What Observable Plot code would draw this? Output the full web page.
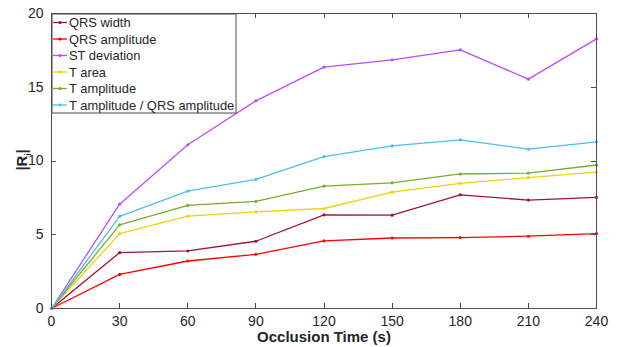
<!DOCTYPE html>
<html>
<head>
<meta charset="utf-8">
<script src="https://cdn.jsdelivr.net/npm/d3@7"></script>
<script src="https://cdn.jsdelivr.net/npm/@observablehq/plot@0.6"></script>
<style>
  body { margin: 0; background: #fff; }
  #chart { width: 625px; height: 347px; }
  svg { font-family: "Liberation Sans", Arial, sans-serif; }
</style>
</head>
<body>
<div id="chart"></div>
<script>
const times = [0, 30, 60, 90, 120, 150, 180, 210, 240];
const seriesNames = ["QRS width", "QRS amplitude", "ST deviation", "T area", "T amplitude", "T amplitude / QRS amplitude"];
const seriesColors = ["#A2142F", "#FF0000", "#B94CFF", "#EDD20F", "#77AC30", "#4DBEEE"];
const qrsWidth     = [0, 3.79, 3.90, 4.56, 6.35, 6.33, 7.71, 7.35, 7.53];
const qrsAmplitude = [0, 2.31, 3.22, 3.67, 4.58, 4.78, 4.81, 4.90, 5.08];
const stDeviation  = [0, 7.07, 11.10, 14.08, 16.37, 16.86, 17.54, 15.55, 18.28];
const tArea        = [0, 5.08, 6.26, 6.55, 6.78, 7.89, 8.48, 8.87, 9.25];
const tAmplitude   = [0, 5.67, 6.99, 7.26, 8.30, 8.52, 9.12, 9.18, 9.73];
const tAmpRatio    = [0, 6.24, 7.96, 8.75, 10.29, 11.02, 11.43, 10.80, 11.29];
const xTicks = [0, 30, 60, 90, 120, 150, 180, 210, 240];
const yTicks = [0, 5, 10, 15, 20];

const allSeries = [qrsWidth, qrsAmplitude, stDeviation, tArea, tAmplitude, tAmpRatio];
const data = [];
allSeries.forEach((vals, si) => {
  vals.forEach((v, i) => data.push({series: seriesNames[si], t: times[i], v}));
});

const W = 625, H = 347, mL = 51, mR = 29, mT = 13, mB = 39;
const tick = 5;
const axisColor = "#4d4d4d";
const textColor = "#262626";

const chart = Plot.plot({
  width: W,
  height: H,
  marginLeft: mL,
  marginRight: mR,
  marginTop: mT,
  marginBottom: mB,
  style: {fontFamily: "'Liberation Sans', Arial, sans-serif", fontSize: "14px", color: textColor, background: "#fff"},
  x: {domain: [0, 240], label: null},
  y: {domain: [0, 20], label: null},
  color: {domain: seriesNames, range: seriesColors},
  marks: [
    Plot.line(data, {x: "t", y: "v", z: "series", stroke: "series", strokeWidth: 1.3}),
    Plot.dot(data, {x: "t", y: "v", fill: "series", r: 1.6, stroke: "none"}),
    Plot.frame({stroke: axisColor, strokeWidth: 1}),
    Plot.axisX(xTicks, {anchor: "bottom", tickSize: 0, tickPadding: 8, fill: textColor, fontSize: 14}),
    Plot.axisY(yTicks, {anchor: "left", tickSize: 0, tickPadding: 8, fill: textColor, fontSize: 14})
  ]
});
document.getElementById("chart").appendChild(chart);

const svg = d3.select(chart);
const sx = chart.scale("x"), sy = chart.scale("y");
const x0 = sx.apply(0), x1 = sx.apply(240), y0 = sy.apply(0), y1 = sy.apply(20);
const tg = svg.append("g").attr("stroke", axisColor).attr("stroke-width", 1);
xTicks.forEach(t => {
  const px = Math.round(sx.apply(t)) + 0.5;
  tg.append("line").attr("x1", px).attr("x2", px).attr("y1", y0).attr("y2", y0 - tick);
  tg.append("line").attr("x1", px).attr("x2", px).attr("y1", y1).attr("y2", y1 + tick);
});
yTicks.forEach(t => {
  const py = Math.round(sy.apply(t)) + 0.5;
  tg.append("line").attr("x1", x0).attr("x2", x0 + tick).attr("y1", py).attr("y2", py);
  tg.append("line").attr("x1", x1).attr("x2", x1 - tick).attr("y1", py).attr("y2", py);
});

// x label
svg.append("text")
  .attr("x", 324).attr("y", 342)
  .attr("text-anchor", "middle")
  .attr("font-size", 15).attr("font-weight", "bold").attr("fill", textColor)
  .text("Occlusion Time (s)");
// y label
const yl = svg.append("text")
  .attr("transform", "translate(27,160) rotate(-90)")
  .attr("text-anchor", "middle")
  .attr("font-size", 15).attr("font-weight", "bold").attr("fill", textColor);
yl.append("tspan").text("|R");
yl.append("tspan").attr("font-size", 9).attr("dy", 4).attr("font-weight", "normal").text("i");
yl.append("tspan").attr("dy", -4).text("|");

// legend
const lg = svg.append("g");
const lx = 52, ly = 14, lw = 184, lh = 99;
lg.append("rect").attr("x", lx).attr("y", ly).attr("width", lw).attr("height", lh)
  .attr("fill", "#fff").attr("stroke", axisColor).attr("stroke-width", 1);
seriesNames.forEach((name, i) => {
  const cy = ly + 8.5 + i * 16.5;
  lg.append("line").attr("x1", lx + 1).attr("x2", lx + 15).attr("y1", cy).attr("y2", cy)
    .attr("stroke", seriesColors[i]).attr("stroke-width", 1.3);
  lg.append("circle").attr("cx", lx + 8).attr("cy", cy).attr("r", 1.6).attr("fill", seriesColors[i]);
  lg.append("text").attr("x", lx + 17).attr("y", cy + 4.5)
    .attr("text-anchor", "start")
    .attr("font-size", 12.9).attr("fill", textColor).text(name);
});
</script>
</body>
</html>
